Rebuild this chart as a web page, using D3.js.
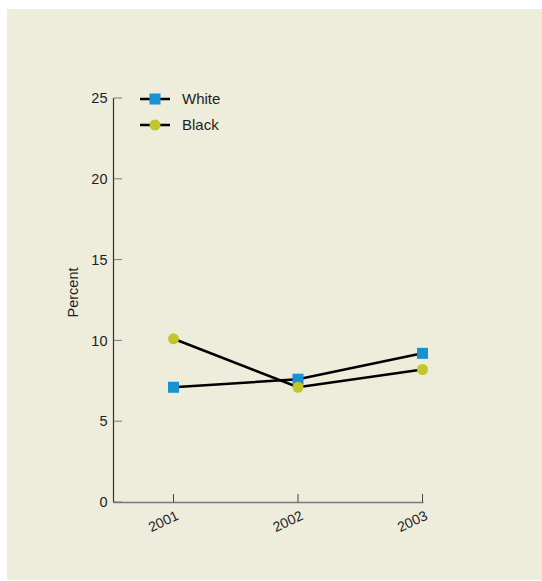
<!DOCTYPE html>
<html>
<head>
<meta charset="utf-8">
<script src="https://cdn.jsdelivr.net/npm/d3@7"></script>
<style>
  html, body { margin: 0; padding: 0; background: #ffffff; }
  svg { display: block; font-family: "Liberation Sans", Arial, sans-serif; }
</style>
</head>
<body>
<svg id="chart" width="542" height="581"></svg>
<script>
// Years on the x axis
const years = ["2001", "2002", "2003"];
// Percent by group
const whiteValues = [7.1, 7.6, 9.2];
const blackValues = [10.1, 7.1, 8.2];
// Y axis ticks
const yTicks = [0, 5, 10, 15, 20, 25];

const svg = d3.select("#chart");

// panel background
svg.append("rect")
  .attr("x", 7).attr("y", 9)
  .attr("width", 535).attr("height", 571)
  .attr("fill", "#eeecdb");

const x = d3.scalePoint().domain(years).range([173.5, 422.5]);
const y = d3.scaleLinear().domain([0, 25]).range([502, 98]);
const axisColor = "#7a7a7a";
const textColor = "#1e1e1e";

// y axis line
svg.append("line")
  .attr("x1", 113.5).attr("x2", 113.5)
  .attr("y1", y(25)).attr("y2", y(0))
  .attr("stroke", "#333").attr("stroke-width", 1.2);

// y ticks
const yg = svg.append("g");
yTicks.forEach(t => {
  yg.append("line")
    .attr("x1", 114).attr("x2", 122)
    .attr("y1", y(t)).attr("y2", y(t))
    .attr("stroke", axisColor).attr("stroke-width", 1);
  yg.append("text")
    .attr("x", 107.5).attr("y", y(t))
    .attr("dy", "0.36em")
    .attr("text-anchor", "end")
    .attr("font-size", 14.5)
    .attr("fill", textColor)
    .text(t);
});

// x axis line
svg.append("line")
  .attr("x1", 113).attr("x2", 423.5)
  .attr("y1", 502.5).attr("y2", 502.5)
  .attr("stroke", axisColor).attr("stroke-width", 1.5);

// x ticks and rotated labels
years.forEach(yr => {
  const px = x(yr);
  svg.append("line")
    .attr("x1", px).attr("x2", px)
    .attr("y1", 494).attr("y2", 502)
    .attr("stroke", "#444").attr("stroke-width", 1);
  svg.append("text")
    .attr("transform", `translate(${px + 6},${519}) rotate(-25)`)
    .attr("text-anchor", "end")
    .attr("font-size", 14)
    .attr("fill", textColor)
    .text(yr);
});

// y axis title
svg.append("text")
  .attr("transform", `translate(77.5,${292.5}) rotate(-90)`)
  .attr("text-anchor", "middle")
  .attr("font-size", 14.5)
  .attr("fill", textColor)
  .text("Percent");

const line = d3.line().x((d, i) => x(years[i])).y(d => y(d));

const series = [
  { name: "White", values: whiteValues, shape: "square", color: "#1b90d2" },
  { name: "Black", values: blackValues, shape: "circle", color: "#c2c52b" }
];

series.forEach(s => {
  svg.append("path")
    .datum(s.values)
    .attr("d", line)
    .attr("fill", "none")
    .attr("stroke", "#000")
    .attr("stroke-width", 2.5);
});

function drawMarker(g, shape, cx, cy, color) {
  if (shape === "square") {
    g.append("rect")
      .attr("x", cx - 5.5).attr("y", cy - 5.5)
      .attr("width", 11).attr("height", 11)
      .attr("fill", color);
  } else {
    g.append("circle")
      .attr("cx", cx).attr("cy", cy).attr("r", 5.5)
      .attr("fill", color);
  }
}

// point markers for each series
series.forEach(s => {
  const g = svg.append("g");
  s.values.forEach((v, i) => drawMarker(g, s.shape, x(years[i]), y(v), s.color));
});

// legend
series.forEach((s, i) => {
  const ly = 99 + i * 26;
  const g = svg.append("g");
  g.append("line")
    .attr("x1", 140).attr("x2", 170)
    .attr("y1", ly).attr("y2", ly)
    .attr("stroke", "#000").attr("stroke-width", 2.5);
  drawMarker(g, s.shape, 155, ly, s.color);
  g.append("text")
    .attr("x", 182).attr("y", ly)
    .attr("dy", "0.36em")
    .attr("font-size", 15)
    .attr("fill", textColor)
    .text(s.name);
});
</script>
</body>
</html>
